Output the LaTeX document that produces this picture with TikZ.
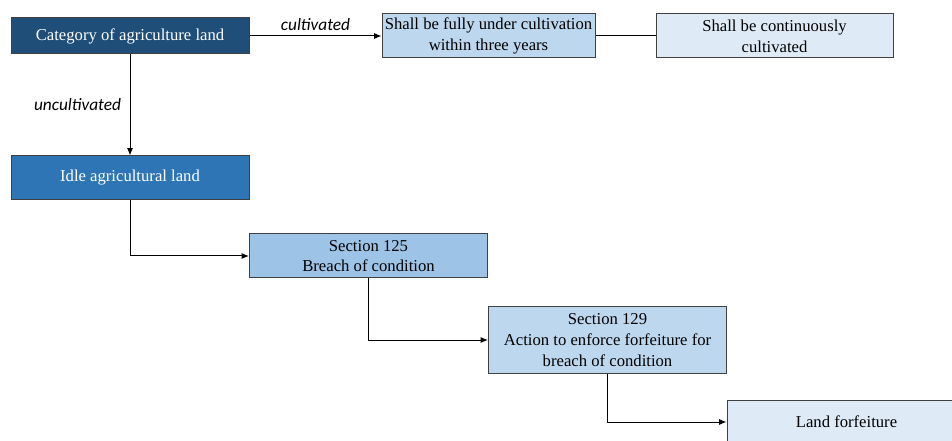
\documentclass[tikz,border=0pt]{standalone}
\usepackage{fontspec}
\setmainfont{Liberation Serif}
\newfontfamily\labelfont{Carlito}
\usetikzlibrary{arrows.meta}

\definecolor{navy}{HTML}{1F4E79}
\definecolor{midblue}{HTML}{2E75B6}
\definecolor{skyblue}{HTML}{9DC3E6}
\definecolor{paleblue}{HTML}{BDD7EE}
\definecolor{iceblue}{HTML}{DEEBF7}
\definecolor{boxline}{HTML}{404040}

\begin{document}
\begin{tikzpicture}[x=0.75pt, y=-0.75pt,
    box/.style={rectangle, draw=boxline, line width=0.75pt,
        minimum width=178.5pt, minimum height=33pt, inner xsep=0pt, inner ysep=2pt,
        align=center, font=\fontsize{12.5}{15.5}\selectfont},
    link/.style={line width=0.75pt, -{Latex[length=5.5pt,width=4.5pt]}},
    plain/.style={line width=0.75pt, -},
    branch/.style={font=\labelfont\itshape\fontsize{13}{15}\selectfont}
]
    \useasboundingbox (0,0) rectangle (952,441);
    \clip (0,0) rectangle (952,441);
    \node[box, fill=navy, text=white, minimum height=27pt] (cat) at (130,36) {Category of agriculture land};
    \node[box, fill=paleblue, minimum width=159.75pt] (full) at (488.5,36) {Shall be fully under cultivation\\within three years};
    \node[box, fill=iceblue, minimum width=177.75pt] (cont) at (774.5,36) {Shall be continuously\\cultivated};
    \node[box, fill=midblue, text=white] (idle) at (130,178) {Idle agricultural land};
    \node[box, fill=skyblue] (sec125) at (368.5,256) {Section 125\\Breach of condition};
    \node[box, fill=paleblue, minimum height=49.5pt] (sec129) at (607.5,340) {Section 129\\Action to enforce forfeiture for\\breach of condition};
    \node[box, fill=iceblue, minimum width=179.25pt] (forfeit) at (846.5,422) {Land forfeiture};
    \draw[link] (cat) -- node[branch, above] (cultlbl) {cultivated} (full);
    \draw[plain] (full) -- (cont);
    \draw[link] (cat) -- node[branch, left, xshift=-3pt] (uncultlbl) {uncultivated} (idle);
    \draw[link] (idle) |- (sec125);
    \draw[link] (sec125) |- (sec129);
    \draw[link] (sec129) |- (forfeit);
\end{tikzpicture}
\end{document}
